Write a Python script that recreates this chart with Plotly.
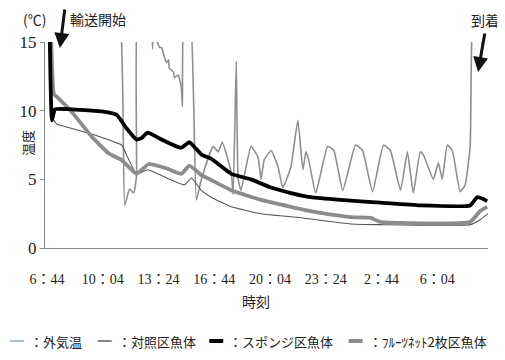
import plotly.graph_objects as go

# time axis: minutes elapsed since 6:44
tick_minutes = [0, 200, 400, 600, 800, 1000, 1200, 1400]
tick_labels = ["6：44", "10：04", "13：24", "16：44", "20：04", "23：24", "2：44", "6：04"]

# 外気温 (air temperature)
air_t = [0, 196, 257, 279, 296, 311, 321, 329, 371, 379, 386, 393, 396, 404, 411, 421, 429, 436,
         439, 454, 457, 471, 482, 486, 493, 511, 536, 554, 596, 614, 629, 661, 668, 679, 686, 696,
         732, 757, 768, 779, 804, 829, 846, 875, 900, 918, 929, 939, 964, 1007, 1029, 1061, 1107,
         1132, 1168, 1207, 1232, 1268, 1293, 1314, 1339, 1350, 1386, 1404, 1418, 1436, 1454, 1482,
         1500, 1518, 1525, 1545, 1562, 1568, 1582]
air_v = [18, 19, 18, 3.1, 4.3, 4.0, 5.2, 18, 18, 14.5, 18, 16, 15.0, 14.6, 14.6, 13.9, 13.5, 13.7,
         13.1, 12.8, 12.4, 12.6, 11.7, 10.3, 18, 18, 3.5, 5.0, 7.4, 7.0, 7.7, 5.5, 3.9, 13.6, 5.0, 4.2,
         7.4, 6.6, 5.0, 6.4, 7.1, 5.9, 4.4, 5.9, 9.3, 5.7, 7.0, 6.4, 4.0, 7.4, 7.1, 4.2, 7.5,
         7.1, 4.1, 7.5, 7.1, 4.2, 7.0, 4.0, 7.0, 6.8, 5.0, 6.2, 5.0, 7.5, 7.1, 4.1,
         4.6, 7.4, 16, 18, 14.6, 18, 18]

# 対照区魚体 (control)
ctrl_t = [25, 36, 54, 125, 190, 257, 268, 321, 361, 430, 493, 518, 554, 589, 661, 768, 911, 1089,
          1196, 1518, 1550, 1582]
ctrl_v = [9.3, 9.0, 8.9, 8.5, 8.1, 7.6, 7.5, 5.4, 5.7, 5.1, 4.6, 5.1, 4.2, 3.7, 3.0, 2.5, 2.2, 1.75,
          1.7, 1.7, 2.0, 2.5]

# スポンジ区魚体 (sponge)
sponge_t = [10, 18, 29, 89, 161, 214, 250, 286, 321, 339, 361, 411, 464, 482, 511, 536, 554, 589,
            661, 732, 804, 875, 946, 1054, 1196, 1339, 1518, 1543, 1561, 1579]
sponge_v = [15.5, 9.3, 10.1, 10.1, 10.0, 9.9, 9.7, 8.7, 7.9, 8.0, 8.4, 7.9, 7.4, 7.3, 7.7, 7.2, 6.8, 6.5,
            5.4, 5.0, 4.4, 4.0, 3.7, 3.5, 3.3, 3.1, 3.1, 3.7, 3.6, 3.4]

# フルーツネット2枚区魚体 (fruit net x2)
net_t = [15, 25, 36, 89, 161, 221, 268, 321, 364, 429, 482, 511, 554, 589, 661, 768, 875, 982,
         1089, 1161, 1196, 1518, 1554, 1579]
net_v = [15.5, 11.2, 11.0, 9.9, 8.1, 6.9, 6.4, 5.4, 6.1, 5.8, 5.4, 6.0, 5.3, 4.95, 4.2, 3.5, 3.0, 2.55,
         2.25, 2.2, 1.9, 1.9, 2.7, 3.0]

names = ["：外気温", "：対照区魚体", "：スポンジ区魚体", "：ﾌﾙｰﾂﾈｯﾄ2枚区魚体"]

JP = "Noto Sans CJK JP"
SERIF = "Liberation Serif, Noto Sans CJK JP"

# the page places the figure 8px in from the top-left corner
OFF = 8
W, H = 505 - OFF, 360 - OFF
ML, MT, MR, MB = 35, 34, 17, 112
PW, PH = W - ML - MR, H - MT - MB


def px(x):  # window pixel x -> paper coordinate
    return (x - OFF - ML) / PW


def py(y):  # window pixel y -> paper coordinate
    return (H - MB - (y - OFF)) / PH


fig = go.Figure()
fig.add_trace(go.Scatter(x=air_t, y=air_v, mode="lines", name=names[0], showlegend=False,
                         line=dict(color="#8f8f8f", width=1.6, shape="spline", smoothing=0.4)))
fig.add_trace(go.Scatter(x=ctrl_t, y=ctrl_v, mode="lines", name=names[1], showlegend=False,
                         line=dict(color="#555555", width=1.1, shape="spline", smoothing=0.4)))
fig.add_trace(go.Scatter(x=net_t, y=net_v, mode="lines", name=names[3], showlegend=False,
                         line=dict(color="#8c8c8c", width=3.8, shape="spline", smoothing=0.4)))
fig.add_trace(go.Scatter(x=sponge_t, y=sponge_v, mode="lines", name=names[2], showlegend=False,
                         line=dict(color="#000000", width=3.8, shape="spline", smoothing=0.4)))

fig.update_layout(
    width=W, height=H,
    margin=dict(l=ML, r=MR, t=MT, b=MB),
    plot_bgcolor="white", paper_bgcolor="white",
    showlegend=False,
    xaxis=dict(range=[-7, 1582], tickmode="array", tickvals=tick_minutes, ticktext=tick_labels,
               showgrid=False, zeroline=False, showline=True, linecolor="#888", linewidth=1,
               ticks="", tickfont=dict(family=SERIF, size=14, color="#222"),
               ticklabelstandoff=18),
    yaxis=dict(range=[0, 15], tickvals=[0, 5, 10, 15], showgrid=False, zeroline=False,
               showline=True, linecolor="#888", linewidth=1, ticks="outside", ticklen=4,
               tickcolor="#888", tickfont=dict(family=SERIF, size=17, color="#222")),
)

# text labels
for txt, x, y in [("(℃)", 32, 19), ("輸送開始", 96, 19), ("到着", 485, 20), ("時刻", 255, 301)]:
    fig.add_annotation(text=txt, x=px(x), y=py(y), xref="paper", yref="paper",
                       xanchor="center", yanchor="middle",
                       showarrow=False, font=dict(family=JP, size=14, color="#222"))
fig.add_annotation(text="温度", x=px(25), y=py(143), xref="paper", yref="paper", showarrow=False,
                   xanchor="center", yanchor="middle",
                   textangle=-90, font=dict(family=JP, size=13, color="#222"))

# arrows
fig.add_annotation(text="", x=px(58), y=py(48), xref="paper", yref="paper", showarrow=True,
                   ax=5, ay=-40, arrowhead=2, arrowsize=1, arrowwidth=3, arrowcolor="#111")
fig.add_annotation(text="", x=px(478), y=py(72), xref="paper", yref="paper", showarrow=True,
                   ax=7, ay=-40, arrowhead=2, arrowsize=1, arrowwidth=3, arrowcolor="#111")

# legend drawn below the chart
leg_styles = [("#a9bdd6", 2), ("#333333", 1.2), ("#000000", 4), ("#8c8c8c", 4)]
leg_x = [8, 96, 208, 348]
leg_y = 341
for nm, (c, w), x0 in zip(names, leg_styles, leg_x):
    fig.add_shape(type="line", xref="paper", yref="paper", x0=px(x0), x1=px(x0 + 14),
                  y0=py(leg_y), y1=py(leg_y), line=dict(color=c, width=w))
    fig.add_annotation(text=nm, x=px(x0 + 18), y=py(leg_y), xref="paper", yref="paper",
                       xanchor="left", yanchor="middle", showarrow=False,
                       font=dict(family=JP, size=13, color="#222"))

fig.write_html("out.html")
